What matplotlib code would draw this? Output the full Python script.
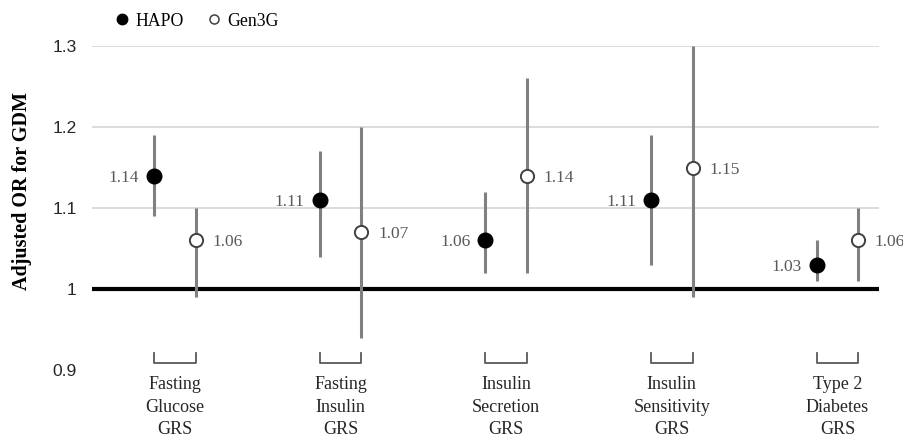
import numpy as np
import matplotlib.pyplot as plt
from matplotlib.lines import Line2D

# genetic risk scores and adjusted odds ratios (with 95% CI)
categories = ["Fasting\nGlucose\nGRS", "Fasting\nInsulin\nGRS", "Insulin\nSecretion\nGRS",
              "Insulin\nSensitivity\nGRS", "Type 2\nDiabetes\nGRS"]

hapo_or = [1.14, 1.11, 1.06, 1.11, 1.03]
hapo_lo = [1.09, 1.04, 1.02, 1.03, 1.01]
hapo_hi = [1.19, 1.17, 1.12, 1.19, 1.06]

gen3g_or = [1.06, 1.07, 1.14, 1.15, 1.06]
gen3g_lo = [0.99, 0.94, 1.02, 0.99, 1.01]
gen3g_hi = [1.10, 1.20, 1.26, 1.30, 1.10]

yticks = [0.9, 1.0, 1.1, 1.2, 1.3]
ytick_labels = ["0.9", "1", "1.1", "1.2", "1.3"]

serif = "Liberation Serif"
sans = "Liberation Sans"
grey_bar = "#808080"
txt_grey = "#595959"

x = np.arange(len(categories))
off = 0.25

fig = plt.figure(figsize=(9.04, 4.38), dpi=100)
ax = fig.add_axes([92 / 904, 1 - 370 / 438, (879 - 92) / 904, (370 - 46) / 438])

# light gridlines above 1, thick black reference line at OR = 1
for t in yticks:
    if t > 1:
        ax.axhline(t, color="#d9d9d9", lw=1.3, zorder=0)
ax.axhline(1.0, color="black", lw=3, zorder=1)

h = np.array(hapo_or)
g = np.array(gen3g_or)
ax.errorbar(x, h, yerr=[h - np.array(hapo_lo), np.array(hapo_hi) - h], fmt="o",
            color="black", ms=10.5, ecolor=grey_bar, elinewidth=2.2, capsize=0, zorder=3)
ax.errorbar(x + off, g, yerr=[g - np.array(gen3g_lo), np.array(gen3g_hi) - g], fmt="o",
            mfc="white", mec="#404040", mew=1.4, ms=9.5, ecolor=grey_bar, elinewidth=2.2,
            capsize=0, zorder=3)

# value labels
for i in range(len(categories)):
    ax.annotate(f"{hapo_or[i]:.2f}", (x[i], hapo_or[i]), xytext=(-11, -1.5),
                textcoords="offset points", ha="right", va="center",
                fontsize=12.5, family=serif, color=txt_grey)
    ax.annotate(f"{gen3g_or[i]:.2f}", (x[i] + off, gen3g_or[i]), xytext=(12, -1.5),
                textcoords="offset points", ha="left", va="center",
                fontsize=12.5, family=serif, color=txt_grey)

# brackets and category labels under the axis
for i, cat in enumerate(categories):
    ax.plot([x[i], x[i], x[i] + off, x[i] + off], [0.921, 0.909, 0.909, 0.921],
            color=txt_grey, lw=1.3, clip_on=False)
    ax.text(x[i] + off / 2, 0.893, cat, ha="center", va="top", fontsize=13,
            family=serif, linespacing=1.45, color="#262626")

ax.set_xlim(-0.376, 4.376)
ax.set_ylim(0.9, 1.3)
ax.set_xticks([])
ax.set_yticks(yticks)
ax.set_yticklabels(ytick_labels, family=sans, fontsize=12.5, color="#262626")
ax.tick_params(axis="y", length=0, pad=11)
for s in ax.spines.values():
    s.set_visible(False)

fig.text(22 / 904, 1 - 191 / 438, "Adjusted OR for GDM", rotation=90, ha="center",
         va="center", fontsize=14.5, fontweight="bold", family=serif)

handles = [Line2D([], [], ls="none", marker="o", color="black", ms=7.5),
           Line2D([], [], ls="none", marker="o", mfc="white", mec="#404040", mew=1.1, ms=6.5)]
fig.legend(handles, ["HAPO", "Gen3G"], loc="center left", bbox_to_anchor=(113 / 904, 1 - 21 / 438),
           ncol=2, frameon=False, handlelength=1, handletextpad=0.25, columnspacing=1.2,
           borderpad=0, borderaxespad=0, prop={"family": serif, "size": 12.8})

fig.savefig("out.png", dpi=100)
